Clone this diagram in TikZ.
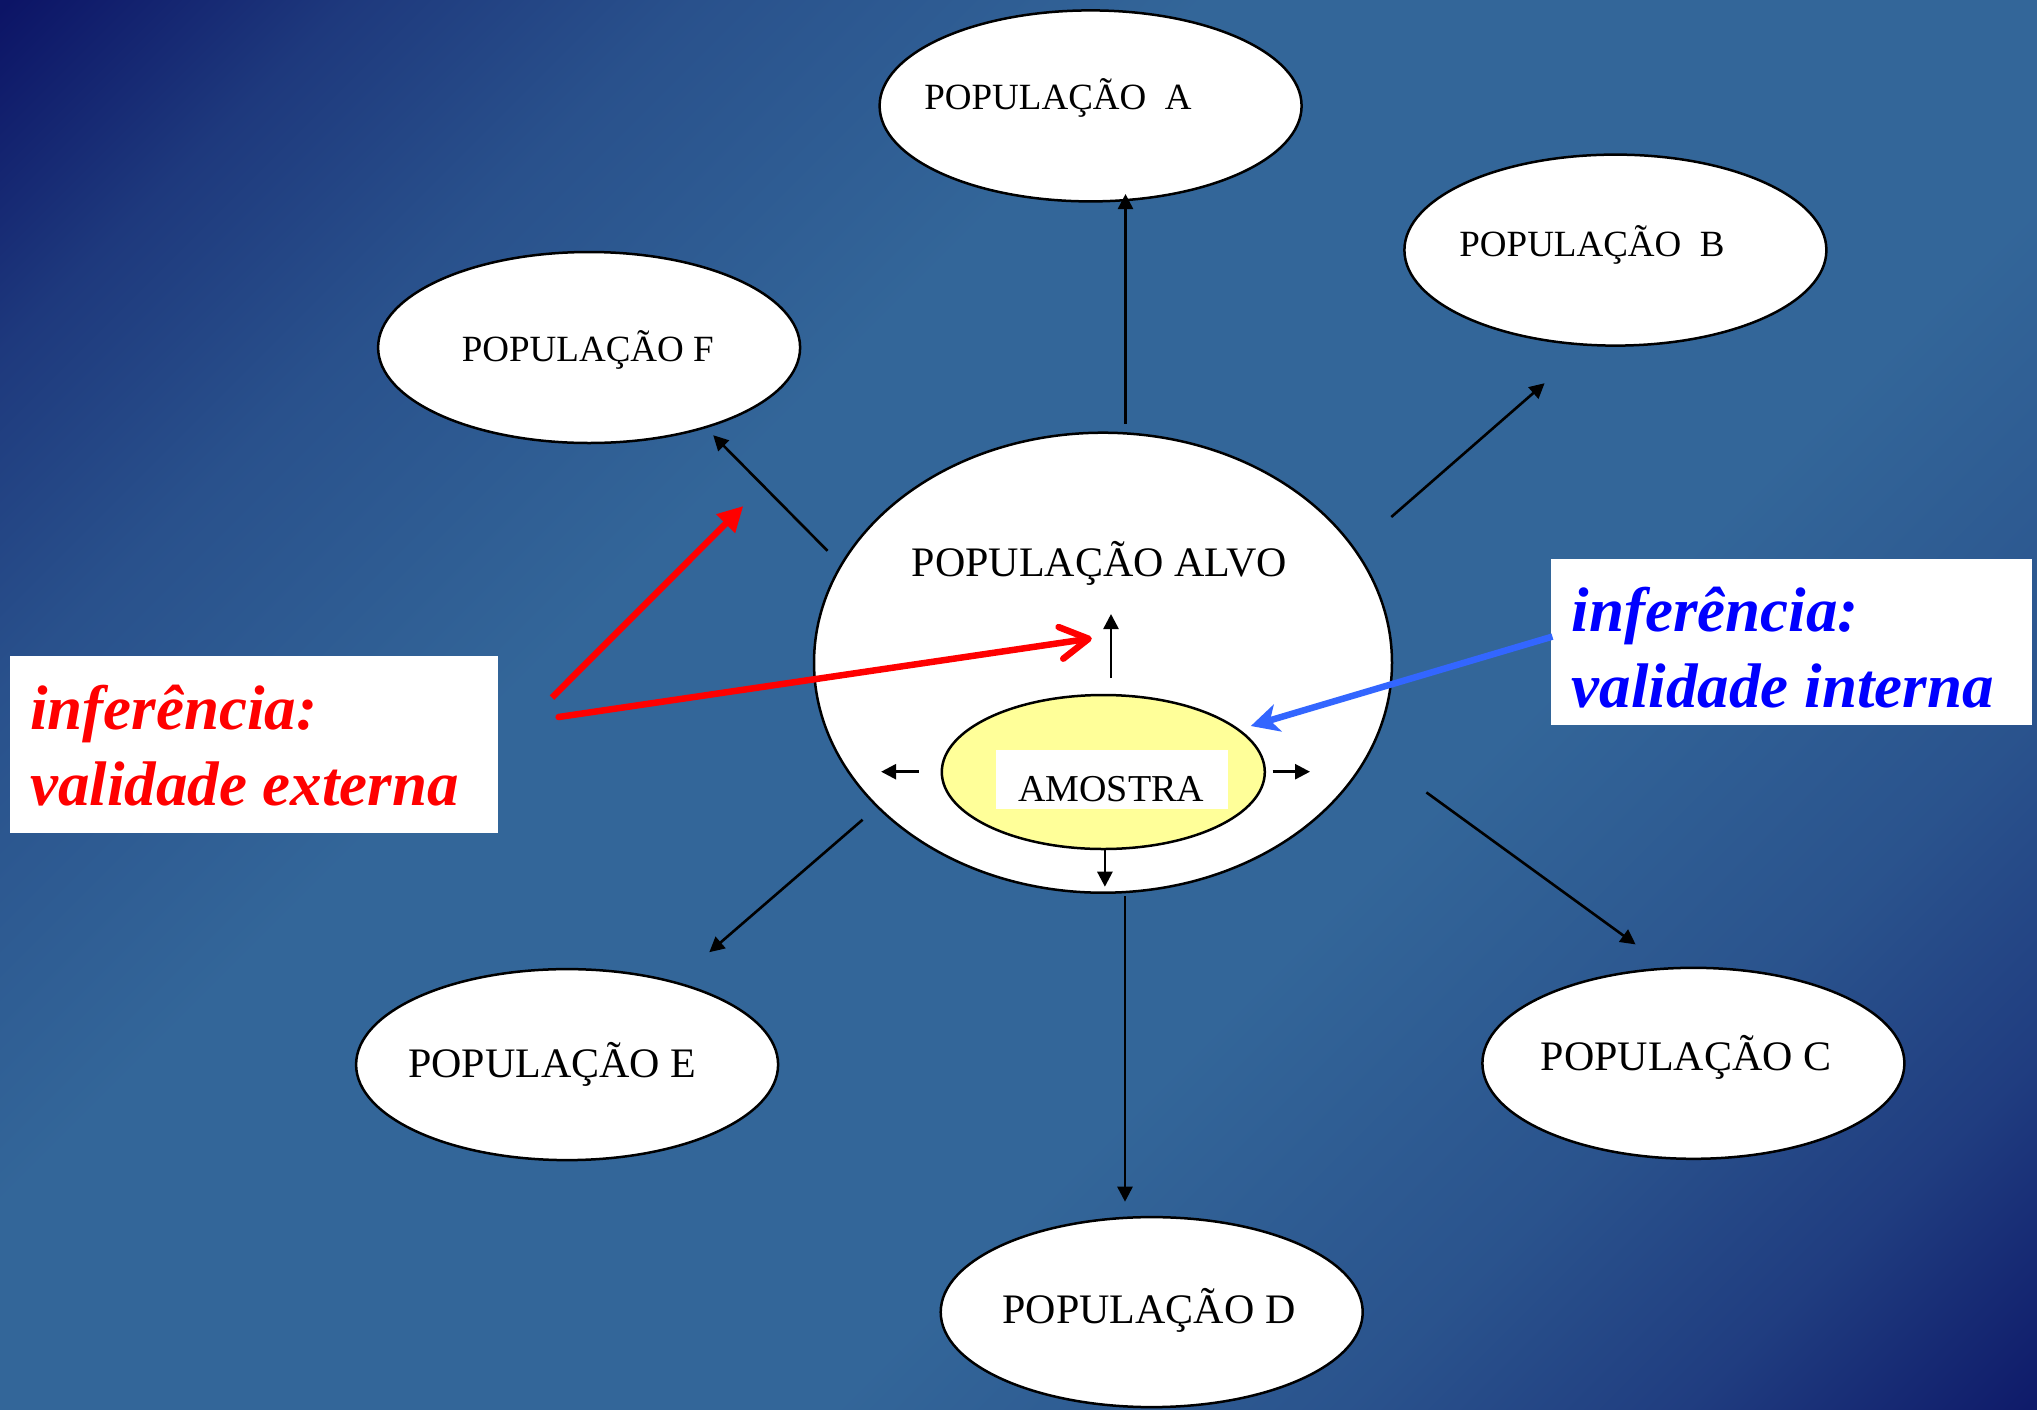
\documentclass[tikz,border=0pt]{standalone}
\usepackage{fontspec}
\setmainfont{Liberation Serif}
\usetikzlibrary{shapes.geometric,arrows.meta}
\definecolor{bgdark}{RGB}{12,20,102}
\definecolor{bgdarkb}{RGB}{15,27,106}
\definecolor{bgqa}{RGB}{30,57,125}
\definecolor{bgqb}{RGB}{41,81,140}
\definecolor{bgmid}{RGB}{51,102,153}
\definecolor{bgqc}{RGB}{42,83,141}
\definecolor{bgqd}{RGB}{32,61,128}
\definecolor{amyellow}{RGB}{255,255,153}
\definecolor{inblue}{RGB}{51,102,255}
\pgfdeclarehorizontalshading{bgshade}{100bp}{color(0bp)=(bgdark); color(14.64bp)=(bgdark); color(21.71bp)=(bgqa); color(28.78bp)=(bgqb); color(39.39bp)=(bgmid); color(60.61bp)=(bgmid); color(71.21bp)=(bgqc); color(78.28bp)=(bgqd); color(85.36bp)=(bgdarkb); color(100bp)=(bgdarkb)}
\begin{document}
\begin{tikzpicture}[x=1pt,y=-1pt,
  pop/.style={ellipse, draw=black, line width=2.5pt, fill=white, inner sep=0pt,
    minimum width=422pt, minimum height=191pt},
  poptext/.style={anchor=base, inner sep=0pt},
  smallfont/.style={font=\fontsize{37}{44}\selectfont},
  bigfont/.style={font=\fontsize{42}{50}\selectfont},
  conn/.style={line width=2.6pt, -{Triangle[length=15pt,width=15pt]}},
  infbox/.style={rectangle, fill=white, inner sep=0pt},
  inftext/.style={anchor=base west, inner sep=0pt, font=\fontsize{63}{76}\selectfont\bfseries\itshape}
]
\useasboundingbox (0,0) rectangle (2037,1409);
\shade[shading=bgshade, shading angle=-45] (0,0) rectangle (2037,1409);

% outer populations
\node[pop] (A) at (1090.6,105.9) {};
\node[pop] (B) at (1615.4,250.1) {};
\node[pop] (F) at (589.1,347.5) {};
\node[pop] (E) at (567.1,1064.6) {};
\node[pop] (C) at (1693.4,1063.3) {};
\node[pop, minimum height=190pt] (D) at (1151.7,1312.1) {};

\node[poptext, smallfont] (tA) at (1058,109.8) {POPULAÇÃO~~A};
\node[poptext, smallfont] (tB) at (1592,256.6) {POPULAÇÃO~~B};
\node[poptext, smallfont] (tF) at (587.8,361.8) {POPULAÇÃO F};
\node[poptext, bigfont] (tE) at (552.1,1077.8) {POPULAÇÃO E};
\node[poptext, bigfont] (tC) at (1686.2,1070) {POPULAÇÃO C};
\node[poptext, bigfont] (tD) at (1149,1323.4) {POPULAÇÃO D};

% target population and sample
\node[pop, minimum width=578pt, minimum height=460pt] (alvo) at (1103,662.7) {};
\node[poptext, bigfont] (talvo) at (1099.5,576) {POPULAÇÃO ALVO};
\node[pop, fill=amyellow, minimum width=323pt, minimum height=154pt] (amostra) at (1103.3,772) {};
\node[infbox, minimum width=232pt, minimum height=59pt] (amobox) at (1112,779.5) {};
\node[poptext, font=\fontsize{38}{45}\selectfont] (tamostra) at (1111.2,801) {AMOSTRA};

% connector end points
\coordinate (sA) at (1125.5,423.5); \coordinate (eA) at (1125.5,194);
\coordinate (sB) at (1391.3,517);   \coordinate (eB) at (1544.6,383.2);
\coordinate (sF) at (827.5,550.8);  \coordinate (eF) at (713.2,435.2);
\coordinate (sE) at (862.6,819.7);  \coordinate (eE) at (709.3,952.2);
\coordinate (sC) at (1426.4,792.4); \coordinate (eC) at (1635.6,944.4);
\coordinate (sD) at (1125,896.4);   \coordinate (eD) at (1125,1201.7);
\coordinate (sU) at (1111,678);     \coordinate (eU) at (1111,614);
\coordinate (sL) at (918.6,771.7);  \coordinate (eL) at (881.1,771.7);
\coordinate (sR) at (1272.5,771.7); \coordinate (eR) at (1310,771.7);
\coordinate (sDn) at (1104.9,850);  \coordinate (eDn) at (1104.9,886.7);

\draw[conn] (sA) -- (eA);
\draw[conn] (sB) -- (eB);
\draw[conn] (sF) -- (eF);
\draw[conn] (sE) -- (eE);
\draw[conn] (sC) -- (eC);
\draw[conn] (sD) -- (eD);
\draw[conn] (sU) -- (eU);
\draw[conn] (sL) -- (eL);
\draw[conn] (sR) -- (eR);
\draw[conn] (sDn) -- (eDn);

% inference boxes
\node[infbox, minimum width=488pt, minimum height=177pt] (extbox) at (254,744.5) {};
\node[inftext, text=red] (ext1) at (30,729.3) {inferência:};
\node[inftext, text=red] (ext2) at (30,805.7) {validade externa};
\node[infbox, minimum width=481pt, minimum height=166pt] (intbox) at (1791.5,642) {};
\node[inftext, text=blue] (int1) at (1571.7,631) {inferência:};
\node[inftext, text=blue] (int2) at (1571.7,707.3) {validade interna};

% inference arrows
\coordinate (r1s) at (552,697.6);   \coordinate (r1e) at (743.3,506);
\coordinate (r2s) at (558.6,717);   \coordinate (r2e) at (1091.8,638.3);
\coordinate (bs) at (1552.4,636.6); \coordinate (be) at (1250.8,726);
\draw[red, line width=6.5pt, -{Triangle[length=25pt,width=25pt]}] (r1s) -- (r1e);
\draw[red, line width=6.5pt, line cap=round, -{Straight Barb[length=28pt,width=32pt,round]}] (r2s) -- (r2e);
\draw[inblue, line width=6.5pt, -{Stealth[length=28pt,width=28pt,inset=8pt]}] (bs) -- (be);
\end{tikzpicture}
\end{document}
